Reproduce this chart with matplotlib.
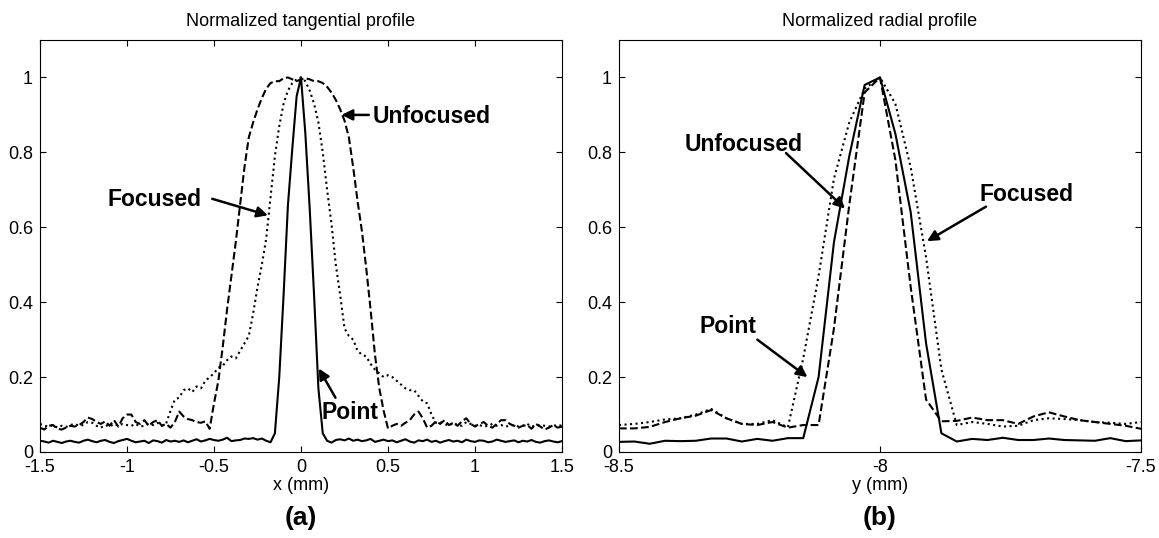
import numpy as np
import matplotlib.pyplot as plt

plt.rcParams['font.family'] = ['Liberation Sans', 'DejaVu Sans']

# tangential profile, x in mm (sample grid step 0.025 mm)
x_tan = np.linspace(-1.5, 1.5, 121)

tan_point = [
    0.030, 0.028, 0.025, 0.030, 0.027, 0.024, 0.028, 0.030, 0.027, 0.025,
    0.030, 0.033, 0.029, 0.026, 0.030, 0.032, 0.027, 0.024, 0.029, 0.032,
    0.035, 0.030, 0.026, 0.028, 0.030, 0.024, 0.031, 0.029, 0.025, 0.032,
    0.028, 0.030, 0.027, 0.031, 0.026, 0.030, 0.034, 0.028, 0.031, 0.035,
    0.032, 0.030, 0.033, 0.038, 0.029, 0.031, 0.032, 0.036, 0.035, 0.037,
    0.033, 0.036, 0.030, 0.026, 0.050, 0.200, 0.420, 0.660, 0.810, 0.950,
    1.000, 0.850, 0.650, 0.420, 0.170, 0.050, 0.030, 0.025, 0.032, 0.034,
    0.031, 0.036, 0.030, 0.033, 0.029, 0.031, 0.035, 0.027, 0.030, 0.033,
    0.029, 0.031, 0.026, 0.030, 0.034, 0.028, 0.025, 0.031, 0.029, 0.033,
    0.027, 0.030, 0.025, 0.029, 0.032, 0.028, 0.030, 0.026, 0.033, 0.029,
    0.027, 0.031, 0.030, 0.026, 0.028, 0.033, 0.030, 0.027, 0.029, 0.031,
    0.026, 0.030, 0.028, 0.032, 0.027, 0.025, 0.029, 0.031, 0.028, 0.026,
    0.029,
]

tan_unfocused = [
    0.065, 0.060, 0.070, 0.072, 0.062, 0.060, 0.065, 0.070, 0.068, 0.072,
    0.080, 0.092, 0.088, 0.080, 0.075, 0.082, 0.070, 0.085, 0.068, 0.090,
    0.100, 0.100, 0.080, 0.075, 0.085, 0.070, 0.080, 0.085, 0.070, 0.075,
    0.065, 0.080, 0.108, 0.095, 0.088, 0.085, 0.080, 0.078, 0.082, 0.062,
    0.130, 0.190, 0.280, 0.380, 0.470, 0.560, 0.660, 0.760, 0.840, 0.880,
    0.915, 0.945, 0.970, 0.985, 0.990, 0.990, 0.998, 1.000, 0.995, 0.990,
    0.995, 0.998, 0.995, 0.990, 0.990, 0.985, 0.975, 0.960, 0.940, 0.915,
    0.885, 0.840, 0.760, 0.670, 0.590, 0.490, 0.380, 0.260, 0.170, 0.110,
    0.063, 0.070, 0.075, 0.070, 0.078, 0.085, 0.100, 0.108, 0.090, 0.065,
    0.070, 0.082, 0.075, 0.085, 0.072, 0.078, 0.070, 0.082, 0.090, 0.075,
    0.068, 0.075, 0.080, 0.070, 0.065, 0.075, 0.085, 0.085, 0.075, 0.070,
    0.065, 0.070, 0.072, 0.062, 0.075, 0.068, 0.060, 0.065, 0.072, 0.065,
    0.068,
]

tan_focused = [
    0.075, 0.070, 0.068, 0.072, 0.065, 0.070, 0.067, 0.072, 0.075, 0.070,
    0.072, 0.080, 0.078, 0.070, 0.065, 0.072, 0.068, 0.075, 0.070, 0.075,
    0.072, 0.070, 0.075, 0.068, 0.070, 0.075, 0.072, 0.078, 0.070, 0.076,
    0.110, 0.140, 0.145, 0.165, 0.170, 0.160, 0.175, 0.170, 0.190, 0.200,
    0.210, 0.225, 0.230, 0.245, 0.255, 0.250, 0.270, 0.290, 0.310, 0.370,
    0.440, 0.500, 0.570, 0.680, 0.790, 0.870, 0.930, 0.965, 0.985, 0.995,
    1.000, 0.990, 0.965, 0.930, 0.880, 0.800, 0.700, 0.610, 0.500, 0.420,
    0.330, 0.310, 0.300, 0.270, 0.260, 0.255, 0.235, 0.220, 0.210, 0.200,
    0.205, 0.200, 0.190, 0.180, 0.170, 0.165, 0.165, 0.150, 0.135, 0.130,
    0.100, 0.078, 0.080, 0.075, 0.070, 0.078, 0.072, 0.070, 0.080, 0.075,
    0.070, 0.072, 0.068, 0.070, 0.075, 0.070, 0.072, 0.068, 0.070, 0.072,
    0.068, 0.070, 0.075, 0.068, 0.070, 0.072, 0.070, 0.068, 0.070, 0.072,
    0.070,
]

# radial profile, y in mm (35 samples)
y_rad = np.linspace(-8.5, -7.5, 35)

rad_point = [
    0.027, 0.028, 0.022, 0.030, 0.029, 0.030, 0.036, 0.036, 0.028, 0.035,
    0.030, 0.037, 0.037, 0.200, 0.560, 0.790, 0.980, 1.000, 0.850, 0.640,
    0.290, 0.050, 0.028, 0.035, 0.032, 0.038, 0.032, 0.032, 0.036, 0.032,
    0.031, 0.030, 0.037, 0.029, 0.031,
]

rad_unfocused = [
    0.063, 0.063, 0.067, 0.080, 0.090, 0.097, 0.112, 0.090, 0.075, 0.072,
    0.080, 0.065, 0.072, 0.072, 0.330, 0.660, 0.960, 1.000, 0.780, 0.440,
    0.140, 0.082, 0.083, 0.092, 0.085, 0.085, 0.075, 0.095, 0.106, 0.095,
    0.085, 0.080, 0.075, 0.070, 0.062,
]

rad_focused = [
    0.072, 0.075, 0.080, 0.087, 0.090, 0.100, 0.115, 0.090, 0.075, 0.075,
    0.085, 0.066, 0.250, 0.470, 0.730, 0.880, 0.970, 1.000, 0.930, 0.760,
    0.520, 0.220, 0.072, 0.080, 0.075, 0.068, 0.070, 0.085, 0.090, 0.088,
    0.085, 0.080, 0.078, 0.075, 0.080,
]

y_ticks = [0, 0.2, 0.4, 0.6, 0.8, 1]
y_ticklabels = ['0', '0.2', '0.4', '0.6', '0.8', '1']

fig = plt.figure(figsize=(11.59, 5.38), dpi=100)
ax1 = fig.add_axes([40 / 1159, 86 / 538, 522 / 1159, 412 / 538])
ax2 = fig.add_axes([619 / 1159, 86 / 538, 522 / 1159, 412 / 538])

lw = 1.5
ax1.plot(x_tan, tan_point, '-', color='k', lw=lw)
ax1.plot(x_tan, tan_unfocused, '--', color='k', lw=lw)
ax1.plot(x_tan, tan_focused, ':', color='k', lw=lw)

ax2.plot(y_rad, rad_point, '-', color='k', lw=lw)
ax2.plot(y_rad, rad_unfocused, '--', color='k', lw=lw)
ax2.plot(y_rad, rad_focused, ':', color='k', lw=lw)

ax1.set_xlim(-1.5, 1.5)
ax1.set_xticks([-1.5, -1, -0.5, 0, 0.5, 1, 1.5])
ax1.set_xticklabels(['-1.5', '-1', '-0.5', '0', '0.5', '1', '1.5'])
ax2.set_xlim(-8.5, -7.5)
ax2.set_xticks([-8.5, -8, -7.5])
ax2.set_xticklabels(['-8.5', '-8', '-7.5'])

for ax in (ax1, ax2):
    ax.set_ylim(0, 1.1)
    ax.set_yticks(y_ticks)
    ax.set_yticklabels(y_ticklabels)
    ax.tick_params(direction='in', length=4, width=0.8, labelsize=13,
                   top=True, right=True, pad=5)
    for s in ax.spines.values():
        s.set_linewidth(0.8)

ax1.set_title('Normalized tangential profile', fontsize=13, pad=10)
ax2.set_title('Normalized radial profile', fontsize=13, pad=10)
ax1.set_xlabel('x (mm)', fontsize=13, labelpad=1)
ax2.set_xlabel('y (mm)', fontsize=13, labelpad=1)

fig.text((40 + 261) / 1159, 0.038, '(a)', ha='center', va='center',
         fontsize=19, fontweight='bold')
fig.text((619 + 261) / 1159, 0.038, '(b)', ha='center', va='center',
         fontsize=19, fontweight='bold')

arrow = dict(arrowstyle='-|>', lw=1.8, color='k', mutation_scale=16,
             shrinkA=0, shrinkB=0)
lab = dict(fontsize=16.5, fontweight='bold', va='center')

# panel (a) labels
ax1.text(0.41, 0.895, 'Unfocused', ha='left', **lab)
ax1.annotate('', xy=(0.233, 0.9), xytext=(0.39, 0.9), arrowprops=arrow)
ax1.text(-1.11, 0.675, 'Focused', ha='left', **lab)
ax1.annotate('', xy=(-0.19, 0.632), xytext=(-0.51, 0.676), arrowprops=arrow)
ax1.text(0.12, 0.105, 'Point', ha='left', **lab)
ax1.annotate('', xy=(0.102, 0.223), xytext=(0.198, 0.145), arrowprops=arrow)

# panel (b) labels
ax2.text(-8.375, 0.82, 'Unfocused', ha='left', **lab)
ax2.annotate('', xy=(-8.067, 0.65), xytext=(-8.18, 0.798), arrowprops=arrow)
ax2.text(-7.81, 0.687, 'Focused', ha='left', **lab)
ax2.annotate('', xy=(-7.91, 0.563), xytext=(-7.797, 0.655), arrowprops=arrow)
ax2.text(-8.345, 0.335, 'Point', ha='left', **lab)
ax2.annotate('', xy=(-8.139, 0.2), xytext=(-8.235, 0.3), arrowprops=arrow)

fig.savefig('out.png', dpi=100)
